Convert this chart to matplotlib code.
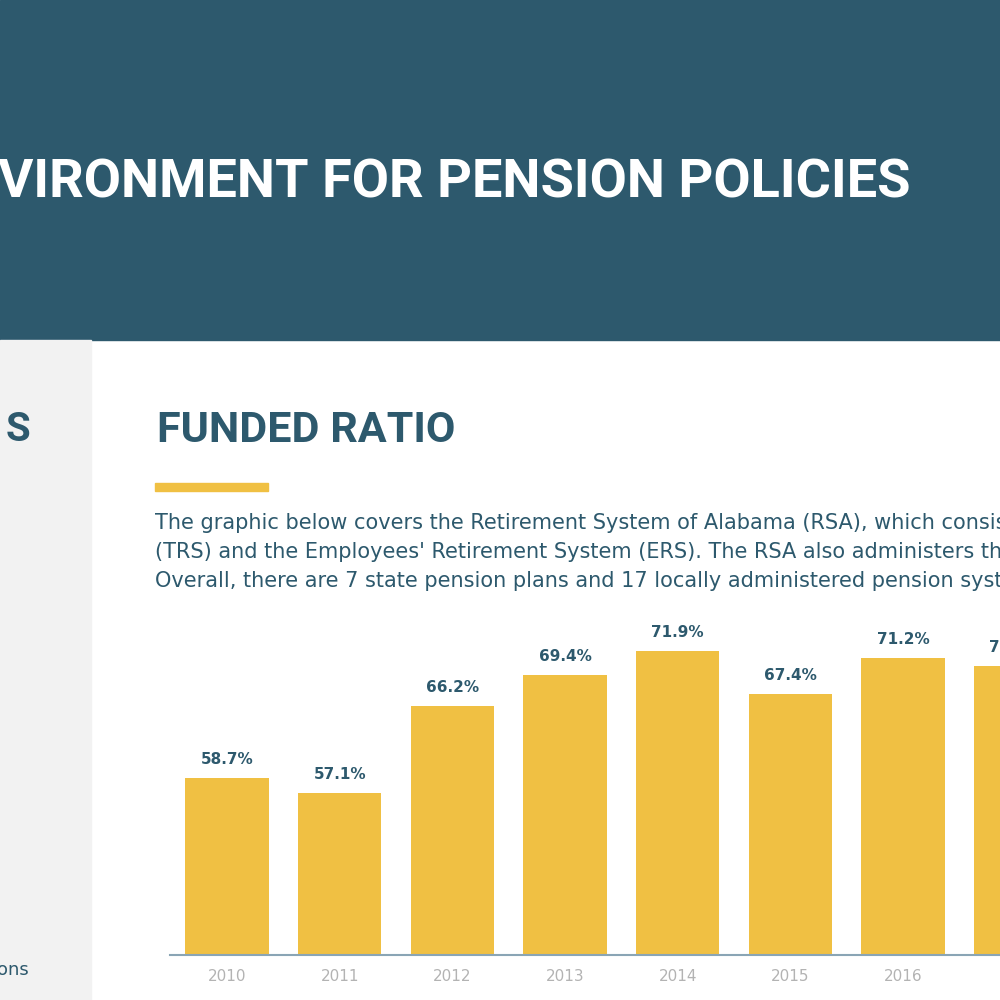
import matplotlib
matplotlib.use("Agg")
import matplotlib.pyplot as plt
from matplotlib.patches import Rectangle

# data (the 2017 bar is cut by the right edge)
years = ["2010", "2011", "2012", "2013", "2014", "2015", "2016", "2017"]
funded = [58.7, 57.1, 66.2, 69.4, 71.9, 67.4, 71.2, 70.3]

header = "VIRONMENT FOR PENSION POLICIES"
title = "FUNDED RATIO"
body = [
    "The graphic below covers the Retirement System of Alabama (RSA), which consists of the Teachers' Retirement System",
    "(TRS) and the Employees' Retirement System (ERS). The RSA also administers the Judicial Retirement Fund (JRF).",
    "Overall, there are 7 state pension plans and 17 locally administered pension systems in Alabama.",
]

TEAL = "#2d596d"
YELLOW = "#f0c043"
GREY_PANEL = "#f2f2f2"
HEAD = ["Roboto", "DejaVu Sans"]

fig = plt.figure(figsize=(10, 10), dpi=100)
fig.patch.set_facecolor("white")

# header band and left side panel
fig.add_artist(Rectangle((0, 0.66), 1, 0.34, transform=fig.transFigure, color=TEAL, zorder=0))
fig.add_artist(Rectangle((0, 0), 0.091, 0.66, transform=fig.transFigure, color=GREY_PANEL, zorder=0))

fig.text(-0.002, 0.817, header, color="white", fontsize=39, fontweight="bold",
         family=HEAD, va="center", ha="left")
fig.text(0.006, 0.570, "S", color=TEAL, fontsize=29, fontweight="bold", family=HEAD,
         va="center", ha="left")
fig.text(-0.003, 0.030, "ons", color=TEAL, fontsize=13, va="center", ha="left")

fig.text(0.157, 0.570, title, color=TEAL, fontsize=31, fontweight="bold", family=HEAD,
         va="center", ha="left")
fig.add_artist(Rectangle((0.155, 0.509), 0.113, 0.008, transform=fig.transFigure, color=YELLOW))

for i, line in enumerate(body):
    fig.text(0.155, 0.477 - i * 0.029, line, color=TEAL, fontsize=15,
             va="center", ha="left")

# bar chart
ax = fig.add_axes([0.17, 0.045, 0.83, 0.355])
x = list(range(len(years)))
bars = ax.bar(x, funded, width=0.74, color=YELLOW, zorder=2)

for b, v in zip(bars, funded):
    ax.annotate(f"{v:.1f}%", (b.get_x() + b.get_width() / 2, v), xytext=(0, 8),
                textcoords="offset points", ha="center", va="bottom",
                color=TEAL, fontsize=11, fontweight="bold", annotation_clip=False)

for s in ["top", "right", "left"]:
    ax.spines[s].set_visible(False)
ax.spines["bottom"].set_color("#8aa5b5")
ax.spines["bottom"].set_linewidth(1.5)
ax.set_yticks([])
ax.set_xticks(x)
ax.set_xticklabels(years, color="#b3b3b3", fontsize=11)
ax.tick_params(axis="x", length=0, pad=10)
ax.patch.set_alpha(0)
# limits last, set_xticks would widen them
ax.set_xlim(-0.506, 6.86)
ax.set_ylim(40.3, 77.2)

fig.savefig("out.png", dpi=100)
